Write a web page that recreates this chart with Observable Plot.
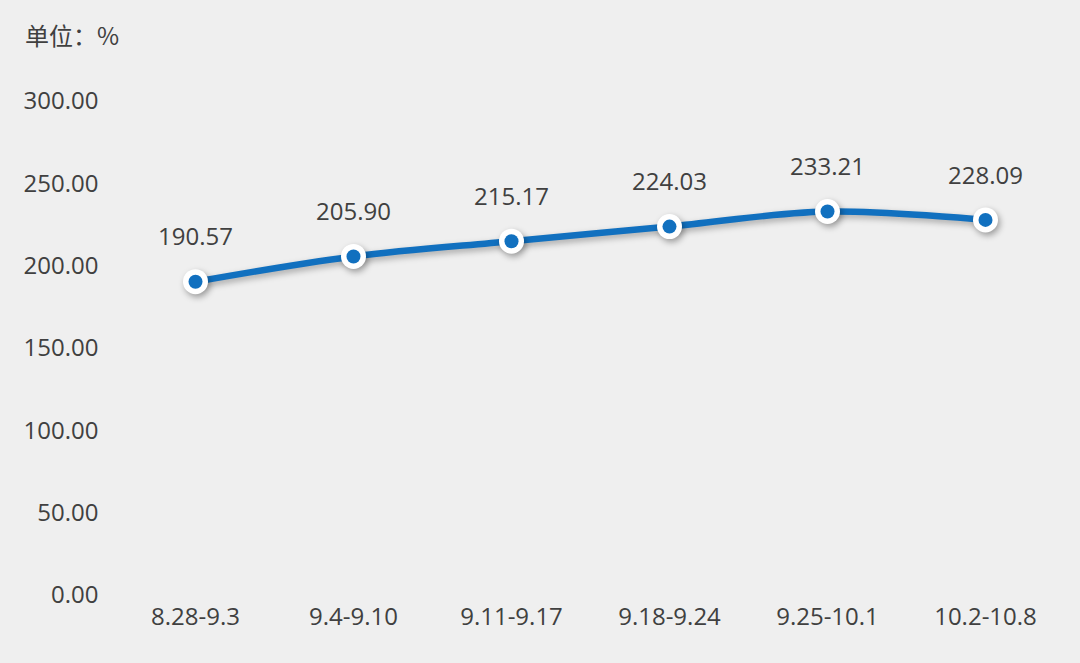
<!DOCTYPE html>
<html>
<head>
<meta charset="utf-8">
<script src="https://cdn.jsdelivr.net/npm/d3@7"></script>
<script src="https://cdn.jsdelivr.net/npm/@observablehq/plot@0.6"></script>
<style>
  html, body { margin: 0; padding: 0; background: #efefef; }
  #wrap { position: relative; width: 1080px; height: 663px; background: #efefef; }
  #unit { position: absolute; left: 25px; top: 17px; font: 24px "Noto Sans CJK SC", "Open Sans", sans-serif; color: #404040; }
  svg { display: block; }
</style>
</head>
<body>
<div id="wrap"><div id="unit">单位：%</div></div>
<script>
const weeks = ["8.28-9.3", "9.4-9.10", "9.11-9.17", "9.18-9.24", "9.25-10.1", "10.2-10.8"];
const values = [190.57, 205.90, 215.17, 224.03, 233.21, 228.09];
const yTicks = [0, 50, 100, 150, 200, 250, 300];

const data = weeks.map((w, i) => ({week: w, value: values[i]}));
const blue = "#1170bf";
const fmt = d3.format(".2f");

const chart = Plot.plot({
  width: 1080,
  height: 663,
  marginLeft: 115,
  marginRight: 16,
  marginTop: 101,
  marginBottom: 68,
  style: {background: "transparent", fontFamily: "'Open Sans', sans-serif", fontSize: "24px", color: "#404040"},
  x: {type: "point", domain: weeks, padding: 0.5, label: null, tickSize: 0, tickPadding: 12},
  y: {domain: [0, 300], ticks: yTicks, tickFormat: fmt, label: null, tickSize: 0, tickPadding: 17},
  marks: [
    Plot.axisX({tickSize: 0, tickPadding: 12, fontSize: 24, fill: "#404040", label: null}),
    Plot.axisY({ticks: yTicks, tickFormat: fmt, tickSize: 0, tickPadding: 17, fontSize: 24, fill: "#404040", label: null}),
    Plot.line(data, {x: "week", y: "value", stroke: blue, strokeWidth: 6.5, curve: "catmull-rom",
      imageFilter: "drop-shadow(2px 3px 3px rgba(0,0,0,0.3))"}),
    Plot.dot(data, {x: "week", y: "value", r: 12.5, fill: "white", stroke: "none",
      imageFilter: "drop-shadow(2px 3px 3px rgba(0,0,0,0.35))"}),
    Plot.dot(data, {x: "week", y: "value", r: 7, fill: blue, stroke: "none"}),
    Plot.text(data, {x: "week", y: "value", text: d => fmt(d.value), dy: -44, fontSize: 24, fill: "#404040"})
  ]
});
document.getElementById("wrap").appendChild(chart);
chart.style.position = "absolute";
chart.style.left = "0";
chart.style.top = "0";
</script>
</body>
</html>
